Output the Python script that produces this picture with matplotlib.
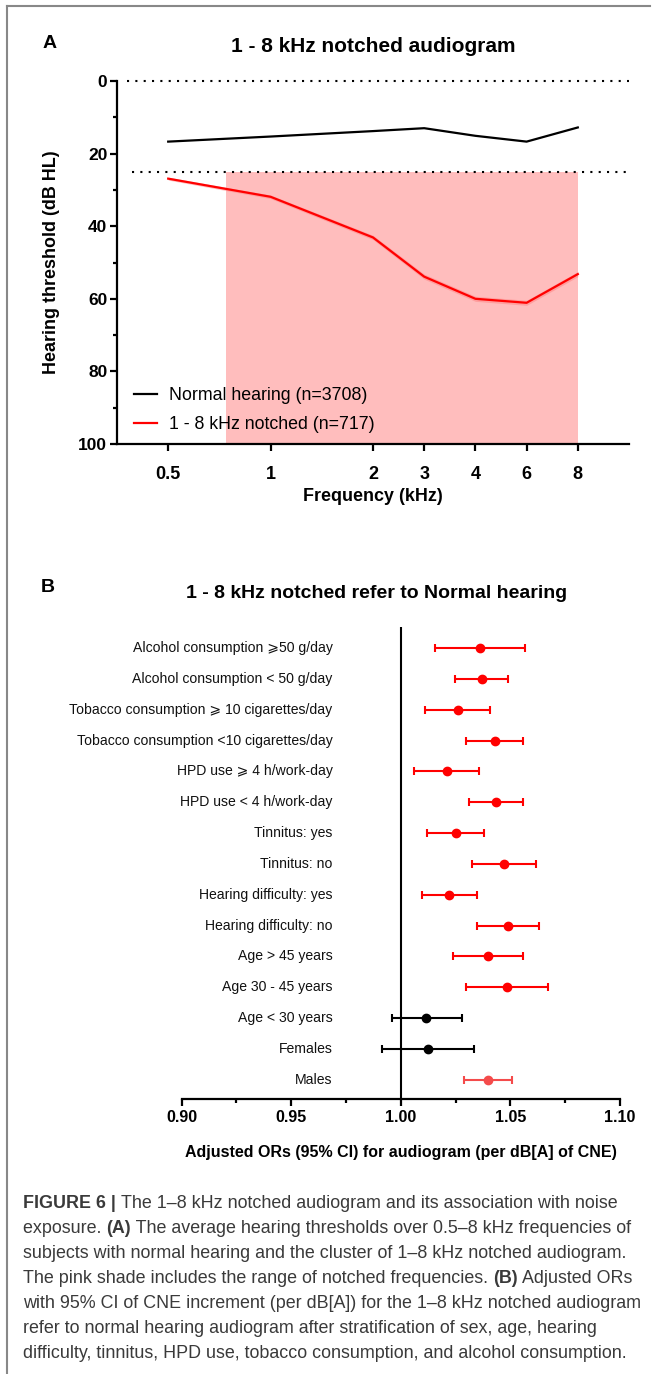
import matplotlib
matplotlib.use('Agg')
import matplotlib.pyplot as plt
import numpy as np
from matplotlib.lines import Line2D
from matplotlib.ticker import MultipleLocator

plt.rcParams['font.family'] = ['Liberation Sans', 'DejaVu Sans']

# ---- panel A data ----
freq_labels = ['0.5', '1', '2', '3', '4', '6', '8']
normal_db = [16.7, 15.3, 13.8, 13.0, 15.1, 16.7, 12.8]
notched_db = [26.9, 31.9, 43.1, 53.9, 60.0, 61.1, 53.2]
notched_ci = [0.4, 0.5, 0.6, 0.7, 0.7, 0.7, 0.7]

# ---- panel B data ----
groups = [
    'Alcohol consumption \u2a7e50 g/day',
    'Alcohol consumption < 50 g/day',
    'Tobacco consumption \u2a7e 10 cigarettes/day',
    'Tobacco consumption <10 cigarettes/day',
    'HPD use \u2a7e 4 h/work-day',
    'HPD use < 4 h/work-day',
    'Tinnitus: yes',
    'Tinnitus: no',
    'Hearing difficulty: yes',
    'Hearing difficulty: no',
    'Age > 45 years',
    'Age 30 - 45 years',
    'Age < 30 years',
    'Females',
    'Males',
]
or_est = [1.0362, 1.0370, 1.0259, 1.0429, 1.0210, 1.0434, 1.0250, 1.0472,
          1.0221, 1.0488, 1.0398, 1.0486, 1.0114, 1.0126, 1.0396]
or_low = [1.0158, 1.0248, 1.0109, 1.0299, 1.0059, 1.0310, 1.0118, 1.0326,
          1.0097, 1.0347, 1.0238, 1.0299, 0.9960, 0.9916, 1.0288]
or_high = [1.0568, 1.0488, 1.0409, 1.0556, 1.0358, 1.0558, 1.0379, 1.0617,
           1.0347, 1.0629, 1.0558, 1.0670, 1.0278, 1.0335, 1.0509]
row_colors = ['red'] * 12 + ['black', 'black', '#f44b4b']

caption = [
    [('FIGURE 6 | ', 'bold'), ('The 1\u20138 kHz notched audiogram and its association with noise', 'normal')],
    [('exposure. ', 'normal'), ('(A)', 'bold'), (' The average hearing thresholds over 0.5\u20138 kHz frequencies of', 'normal')],
    [('subjects with normal hearing and the cluster of 1\u20138 kHz notched audiogram.', 'normal')],
    [('The pink shade includes the range of notched frequencies. ', 'normal'), ('(B)', 'bold'), (' Adjusted ORs', 'normal')],
    [('with 95% CI of CNE increment (per dB[A]) for the 1\u20138 kHz notched audiogram', 'normal')],
    [('refer to normal hearing audiogram after stratification of sex, age, hearing', 'normal')],
    [('difficulty, tinnitus, HPD use, tobacco consumption, and alcohol consumption.', 'normal')],
]

W, H = 655, 1374
fig = plt.figure(figsize=(W / 100, H / 100), dpi=100)


def fx(px):
    return px / W


def fy(py):
    return 1 - py / H


# frame
fig.add_artist(Line2D([fx(7), fx(7)], [fy(6), 0], color='#888888', lw=1.5))
fig.add_artist(Line2D([fx(7), fx(650)], [fy(6), fy(6)], color='#888888', lw=1.5))

# ================= panel A =================
axA = fig.add_axes([fx(117), fy(444), fx(629 - 117), (444 - 81) / H])
xpos = np.array([0, 2, 4, 5, 6, 7, 8])

axA.axvspan(1.13, 8, ymin=0, ymax=0.75, color='#ffbdbd', lw=0, zorder=0)
axA.axhline(0, color='black', ls=(0, (1, 3)), lw=1.5, xmin=0.02, clip_on=False)
axA.axhline(25, color='black', ls=(0, (1, 3)), lw=1.5, xmin=0.03)

lo = np.array(notched_db) - np.array(notched_ci)
hi = np.array(notched_db) + np.array(notched_ci)
axA.fill_between(xpos, lo, hi, color='#ff8080', alpha=0.5, lw=0, zorder=2)
axA.plot(xpos, normal_db, color='black', lw=1.6, label='Normal hearing (n=3708)', zorder=3)
axA.plot(xpos, notched_db, color='red', lw=1.6, label='1 - 8 kHz notched (n=717)', zorder=3)

axA.set_xlim(-1, 9)
axA.set_ylim(100, 0)
axA.set_xticks(xpos)
axA.set_xticklabels(freq_labels)
axA.yaxis.set_major_locator(MultipleLocator(20))
axA.yaxis.set_minor_locator(MultipleLocator(10))
for s in ['top', 'right']:
    axA.spines[s].set_visible(False)
for s in ['left', 'bottom']:
    axA.spines[s].set_linewidth(1.6)
axA.tick_params(axis='both', which='major', length=5, width=1.6, labelsize=12.5)
axA.tick_params(axis='x', labelsize=13, pad=11)
axA.tick_params(axis='y', which='minor', length=3, width=1.6)
axA.tick_params(axis='y', pad=2)
for lab in axA.get_xticklabels() + axA.get_yticklabels():
    lab.set_fontweight('bold')

axA.set_ylabel('Hearing threshold (dB HL)', fontsize=12.9, fontweight='bold')
axA.yaxis.set_label_coords(-0.111, 0.5)
axA.set_xlabel('Frequency (kHz)', fontsize=12.9, fontweight='bold')
axA.xaxis.set_label_coords(0.5, -0.12)

leg = axA.legend(loc='upper left', bbox_to_anchor=(0.033, 0.157), frameon=False,
                 fontsize=12.8, handlelength=1.3, handletextpad=0.65,
                 labelspacing=0.69, borderpad=0, borderaxespad=0)

fig.text(fx(373), fy(47), '1 - 8 kHz notched audiogram', fontsize=15,
         fontweight='bold', ha='center', va='center')
fig.text(fx(50), fy(43), 'A', fontsize=14, fontweight='bold', ha='center', va='center')

# ================= panel B =================
axB = fig.add_axes([fx(181.7), fy(1099), fx(620 - 181.7), (1099 - 627) / H])
ys = np.arange(len(groups), 0, -1)
for y, m, l, h, c in zip(ys, or_est, or_low, or_high, row_colors):
    axB.errorbar(m, y, xerr=[[m - l], [h - m]], fmt='o', color=c, ms=6,
                 elinewidth=1.5, capsize=3, capthick=1.5, zorder=3)
axB.axvline(1.0, color='black', lw=1.5, zorder=2)
for y, g in zip(ys, groups):
    axB.text(0.9688, y, g, ha='right', va='center', fontsize=10.1, color='#111111')

axB.set_xlim(0.9, 1.1)
axB.set_ylim(0.38, 15.68)
axB.xaxis.set_major_locator(MultipleLocator(0.05))
axB.xaxis.set_minor_locator(MultipleLocator(0.025))
axB.xaxis.set_major_formatter(matplotlib.ticker.FormatStrFormatter('%.2f'))
axB.set_yticks([])
for s in ['top', 'right', 'left']:
    axB.spines[s].set_visible(False)
axB.spines['bottom'].set_linewidth(1.6)
axB.tick_params(axis='x', which='major', length=5, width=1.6, labelsize=11.5, pad=3)
axB.tick_params(axis='x', which='minor', length=3, width=1.6)
for lab in axB.get_xticklabels():
    lab.set_fontweight('bold')
axB.set_xlabel('Adjusted ORs (95% CI) for audiogram (per dB[A] of CNE)',
               fontsize=11.5, fontweight='bold')
axB.xaxis.set_label_coords(0.5, -0.097)

fig.text(fx(377), fy(594), '1 - 8 kHz notched refer to Normal hearing', fontsize=14,
         fontweight='bold', ha='center', va='center')
fig.text(fx(48), fy(588), 'B', fontsize=14, fontweight='bold', ha='center', va='center')

# ================= caption =================
renderer = fig.canvas.get_renderer()
y0 = 1208
for i, line in enumerate(caption):
    x = 23
    for txt, wt in line:
        t = fig.text(fx(x), fy(y0 + 25 * i), txt, fontsize=12.9, fontweight=wt,
                     color='#3a3a3a', ha='left', va='baseline')
        x += t.get_window_extent(renderer).width

fig.savefig('out.png', dpi=100)
